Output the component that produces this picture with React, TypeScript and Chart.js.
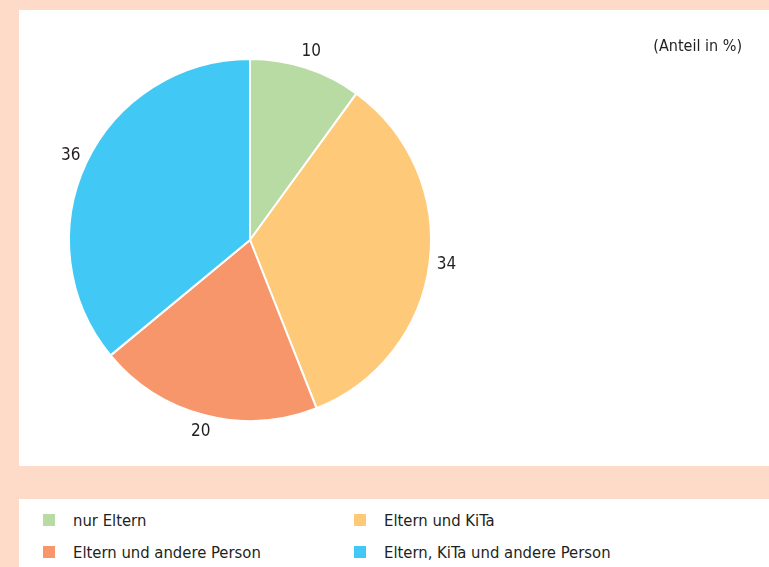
import React, { useEffect, useRef } from "react";
import { Chart, registerables } from "chart.js";

Chart.register(...registerables);

const categories = ["nur Eltern", "Eltern und KiTa", "Eltern und andere Person", "Eltern, KiTa und andere Person"];
const values = [10, 34, 20, 36];
const colors = ["#b8dba3", "#fec979", "#f7966b", "#42c8f4"];
const legendOrder = [0, 1, 2, 3];
const unitLabel = "(Anteil in %)";

const FONT = "'Liberation Sans Narrow', 'DejaVu Sans Condensed', 'Roboto', sans-serif";
const PEACH = "#fddbc8";
const TEXT = "#231f20";

const labelPlugin = {
  id: "outerLabels",
  afterDatasetsDraw(chart: any) {
    const ctx = chart.ctx;
    const meta = chart.getDatasetMeta(0);
    ctx.save();
    ctx.font = `17px ${FONT}`;
    ctx.fillStyle = TEXT;
    ctx.textAlign = "center";
    ctx.textBaseline = "middle";
    meta.data.forEach((arc: any, i: number) => {
      const { x, y, startAngle, endAngle, outerRadius } = arc.getProps(["x", "y", "startAngle", "endAngle", "outerRadius"], true);
      const mid = (startAngle + endAngle) / 2;
      const r = outerRadius + 17;
      ctx.fillText(String(values[i]), x + Math.cos(mid) * r, y + Math.sin(mid) * r);
    });
    ctx.restore();
  },
};

export default function App() {
  const ref = useRef<HTMLCanvasElement | null>(null);
  useEffect(() => {
    if (!ref.current) return;
    const chart = new Chart(ref.current, {
      type: "pie",
      data: {
        labels: categories,
        datasets: [
          {
            data: values,
            backgroundColor: colors,
            borderColor: "#ffffff",
            borderWidth: 2,
          },
        ],
      },
      options: {
        animation: false,
        responsive: false,
        maintainAspectRatio: false,
        layout: { padding: { top: 47, bottom: 43, left: 49, right: 337 } },
        plugins: {
          legend: { display: false },
          tooltip: { enabled: false },
        },
      },
      plugins: [labelPlugin],
    });
    return () => chart.destroy();
  }, []);

  const legendItem = (i: number) => (
    <div key={i} style={{ display: "flex", alignItems: "center", height: 32 }}>
      <span style={{ width: 12, height: 12, background: colors[i], display: "inline-block", marginRight: 18, flexShrink: 0 }} />
      <span>{categories[i]}</span>
    </div>
  );

  return (
    <div style={{ position: "fixed", left: 0, top: 0, width: 769, height: 567, background: PEACH, overflow: "hidden", fontFamily: FONT, color: TEXT }}>
      <div style={{ position: "absolute", left: 19, top: 10, width: 750, height: 456, background: "#fff" }}>
        <canvas ref={ref} width={750} height={456} style={{ width: 750, height: 456, display: "block" }} />
        <div style={{ position: "absolute", right: 27, top: 26, fontSize: 16 }}>{unitLabel}</div>
      </div>
      <div style={{ position: "absolute", left: 19, top: 499, width: 750, height: 68, background: "#fff", fontSize: 16.5 }}>
        <div style={{ position: "absolute", left: 24, top: 5 }}>
          {legendItem(legendOrder[0])}
          {legendItem(legendOrder[2])}
        </div>
        <div style={{ position: "absolute", left: 335, top: 5 }}>
          {legendItem(legendOrder[1])}
          {legendItem(legendOrder[3])}
        </div>
      </div>
    </div>
  );
}
